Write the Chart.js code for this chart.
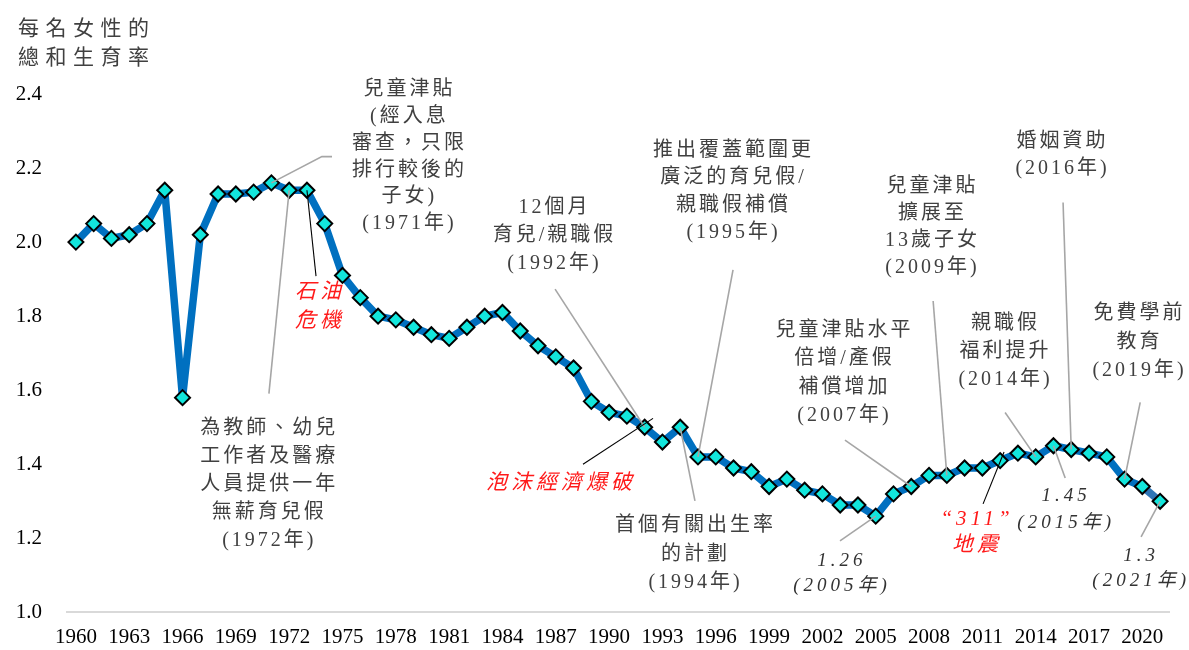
<!DOCTYPE html>
<html>
<head>
<meta charset="utf-8">
<script src="https://cdn.jsdelivr.net/npm/chart.js@4.4.1/dist/chart.umd.min.js"></script>
<style>
html,body{margin:0;padding:0;background:#fff;}
#wrap{width:1189px;height:650px;position:relative;}
</style>
</head>
<body>
<div id="wrap"><canvas id="c"></canvas></div>
<script>
// ---------- data ----------
const years = [1960,1961,1962,1963,1964,1965,1966,1967,1968,1969,
               1970,1971,1972,1973,1974,1975,1976,1977,1978,1979,
               1980,1981,1982,1983,1984,1985,1986,1987,1988,1989,
               1990,1991,1992,1993,1994,1995,1996,1997,1998,1999,
               2000,2001,2002,2003,2004,2005,2006,2007,2008,2009,
               2010,2011,2012,2013,2014,2015,2016,2017,2018,2019,
               2020,2021];
const tfr = [2.00,2.05,2.01,2.02,2.05,2.14,1.58,2.02,2.13,2.13,
             2.135,2.16,2.14,2.14,2.05,1.91,1.85,1.80,1.79,1.77,
             1.75,1.74,1.77,1.80,1.81,1.76,1.72,1.69,1.66,1.57,
             1.54,1.53,1.50,1.46,1.50,1.42,1.42,1.39,1.38,1.34,
             1.36,1.33,1.32,1.29,1.29,1.26,1.32,1.34,1.37,1.37,
             1.39,1.39,1.41,1.43,1.42,1.45,1.44,1.43,1.42,1.36,
             1.34,1.30];
const xTickYears = [1960,1963,1966,1969,1972,1975,1978,1981,1984,1987,1990,
                    1993,1996,1999,2002,2005,2008,2011,2014,2017,2020];
const yTickValues = [1.0,1.2,1.4,1.6,1.8,2.0,2.2,2.4];
const yTitleLines = ['每名女性的','總和生育率'];

// annotations: text lines, anchor (year, value) of first line centre,
// leader = list of anchors; a bare number means the data point of that year
const notes = [
  {lines:['兒童津貼','(經入息','審查，只限','排行較後的','子女)','(1971年)'], at:[1978.68,2.411], gap:26.8, kind:'plain',
   leader:[[1974.41,2.231],[1973.84,2.231],1971], lead:'gray'},
  {lines:['為教師、幼兒','工作者及醫療','人員提供一年','無薪育兒假','(1972年)'], at:[1970.80,1.497], gap:28, kind:'plain',
   leader:[[1970.86,1.591],1972], lead:'gray'},
  {lines:['石油','危機'], at:[1973.62,1.865], gap:29, kind:'red',
   leader:[[1973.51,1.908],1973], lead:'black'},
  {lines:['12個月','育兒/親職假','(1992年)'], at:[1986.84,2.093], gap:28, kind:'plain',
   leader:[[1986.96,1.873],1992], lead:'gray'},
  {lines:['泡沫經濟爆破'], at:[1987.18,1.349], gap:28, kind:'red',
   leader:[[1988.53,1.400],[1992.47,1.524]], lead:'black'},
  {lines:['首個有關出生率','的計劃','(1994年)'], at:[1994.78,1.234], gap:28.5, kind:'plain',
   leader:[[1994.83,1.301],1994], lead:'gray'},
  {lines:['推出覆蓋範圍更','廣泛的育兒假/','親職假補償','(1995年)'], at:[1996.92,2.247], gap:27.5, kind:'plain',
   leader:[[1996.97,1.925],1995], lead:'gray'},
  {lines:['兒童津貼水平','倍增/產假','補償增加','(2007年)'], at:[2003.16,1.761], gap:28.5, kind:'plain',
   leader:[[2003.27,1.465],2007], lead:'gray'},
  {lines:['兒童津貼','擴展至','13歲子女','(2009年)'], at:[2008.11,2.150], gap:27, kind:'plain',
   leader:[[2008.23,1.841],2009], lead:'gray'},
  {lines:['婚姻資助','(2016年)'], at:[2015.43,2.271], gap:27, kind:'plain',
   leader:[[2015.54,2.107],2016], lead:'gray'},
  {lines:['親職假','福利提升','(2014年)'], at:[2012.22,1.779], gap:28, kind:'plain',
   leader:[[2012.28,1.540],2014], lead:'gray'},
  {lines:['免費學前','教育','(2019年)'], at:[2019.76,1.806], gap:28.5, kind:'plain',
   leader:[[2019.88,1.567],2019], lead:'gray'},
  {lines:['“311”','地震'], at:[2010.59,1.250], gap:26, kind:'red',
   leader:[[2011.04,1.293],[2012.22,1.433]], lead:'black'},
  {lines:['1.26','(2005年)'], at:[2002.99,1.140], gap:25, kind:'italic',
   leader:[[2002.99,1.193],2005], lead:'gray'},
  {lines:['1.45','(2015年)'], at:[2015.60,1.314], gap:27, kind:'italic',
   leader:[[2015.66,1.363],2015], lead:'gray'},
  {lines:['1.3','(2021年)'], at:[2019.82,1.153], gap:25, kind:'italic',
   leader:[[2019.93,1.204],2021], lead:'gray'}
];

// ---------- styles ----------
const SERIF = '"Liberation Serif", "Times New Roman", "Noto Sans CJK TC", serif';
const kindStyle = {
  plain:  {font:'20px ' + SERIF, color:'#404040', ls:3},
  red:    {font:'italic 21px ' + SERIF, color:'#FF1A1A', ls:4},
  italic: {font:'italic 19px ' + SERIF, color:'#333333', ls:4}
};
const leadStyle = {gray:{color:'#A6A6A6', w:1.6}, black:{color:'#000000', w:1.1}};

function anchorPx(chart, a) {
  const xs = chart.scales.x, ys = chart.scales.y;
  if (typeof a === 'number') {
    const i = years.indexOf(a);
    return [xs.getPixelForValue(i), ys.getPixelForValue(tfr[i])];
  }
  return [xs.getPixelForValue(a[0] - years[0]), ys.getPixelForValue(a[1])];
}

const notesPlugin = {
  id: 'notes',
  afterDatasetsDraw(chart) {
    const ctx = chart.ctx;
    ctx.save();
    // leader lines
    notes.forEach(n => {
      const st = leadStyle[n.lead];
      ctx.beginPath();
      n.leader.forEach((a, k) => {
        const p = anchorPx(chart, a);
        if (k === 0) ctx.moveTo(p[0], p[1]); else ctx.lineTo(p[0], p[1]);
      });
      ctx.strokeStyle = st.color;
      ctx.lineWidth = st.w;
      ctx.stroke();
    });
    // texts
    ctx.textAlign = 'center';
    ctx.textBaseline = 'middle';
    notes.forEach(n => {
      const st = kindStyle[n.kind];
      const p = anchorPx(chart, n.at);
      ctx.font = st.font;
      ctx.fillStyle = st.color;
      ctx.letterSpacing = st.ls + 'px';
      n.lines.forEach((t, k) => {
        ctx.fillText(t, p[0] + st.ls / 2, p[1] + k * n.gap);
      });
    });
    // y title
    ctx.textAlign = 'left';
    ctx.font = '21px "Noto Sans CJK TC", sans-serif';
    ctx.fillStyle = '#404040';
    ctx.letterSpacing = '6.5px';
    yTitleLines.forEach((t, k) => ctx.fillText(t, 18, 27 + k * 29));
    ctx.restore();
  }
};

const last = tfr.length - 1;
new Chart(document.getElementById('c'), {
  type: 'line',
  data: {
    labels: years,
    datasets: [{
      data: tfr,
      borderColor: '#0070C0',
      borderWidth: 7.5,
      borderJoinStyle: 'round',
      tension: 0,
      pointStyle: 'rectRot',
      pointRadius: 7.5,
      pointHoverRadius: 7.5,
      pointBackgroundColor: '#12E6DC',
      pointBorderColor: '#000000',
      pointBorderWidth: 2,
      clip: false,
      segment: {
        borderColor: c => (c.p0DataIndex === last - 1 ? '#2E75B6' : undefined)
      }
    }]
  },
  options: {
    responsive: true,
    maintainAspectRatio: false,
    animation: false,
    events: [],
    layout: {padding: {top: 94, right: 20, bottom: 0, left: 0}},
    plugins: {legend: {display: false}, tooltip: {enabled: false}, title: {display: false}},
    scales: {
      x: {
        type: 'category',
        offset: true,
        grid: {display: false, drawTicks: false},
        border: {display: true, color: '#D9D9D9', width: 2},
        ticks: {
          autoSkip: false, maxRotation: 0, minRotation: 0, padding: 12,
          color: '#000000',
          font: {family: SERIF, size: 21},
          callback: function (v, i) {
            const yr = years[i];
            return xTickYears.includes(yr) ? String(yr) : '';
          }
        },
        afterFit: s => { s.height = 35; }
      },
      y: {
        min: 1.0, max: 2.4,
        grid: {display: false, drawTicks: false},
        border: {display: false},
        afterBuildTicks: s => { s.ticks = yTickValues.map(v => ({value: v})); },
        ticks: {
          padding: 25,
          color: '#000000',
          font: {family: SERIF, size: 21},
          callback: v => Number(v).toFixed(1)
        },
        afterFit: s => { s.width = 67; }
      }
    }
  },
  plugins: [notesPlugin]
});
</script>
</body>
</html>
